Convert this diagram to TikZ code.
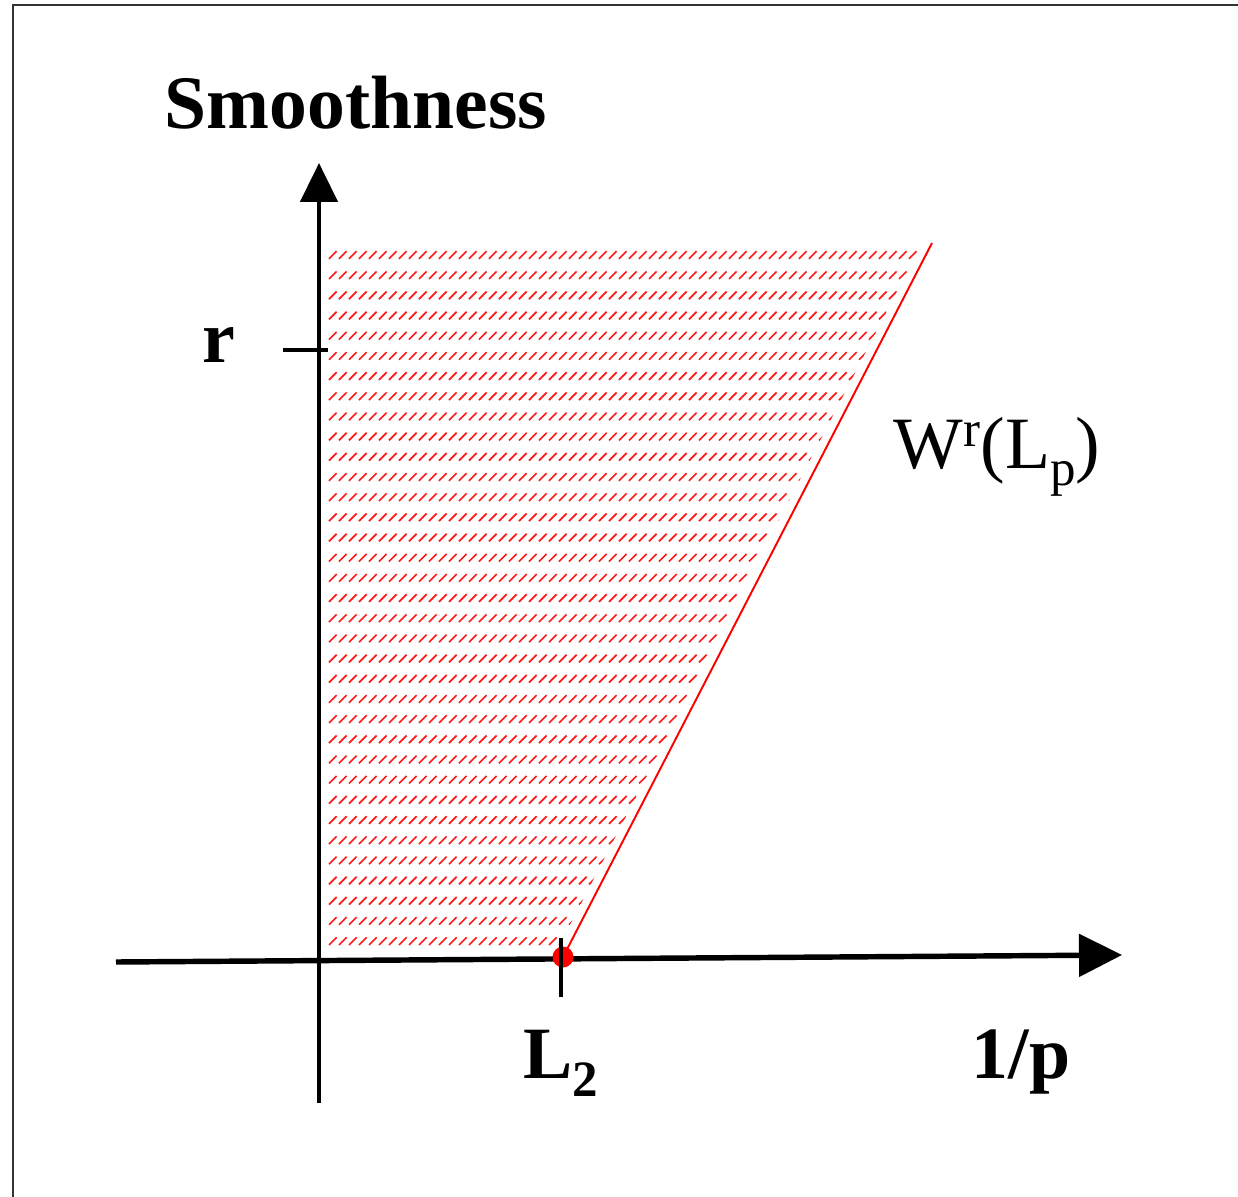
\documentclass[tikz,border=0pt]{standalone}
\usepackage{fontspec}
\setmainfont{Liberation Serif}
\usetikzlibrary{arrows.meta}
\tikzset{
  axis/.style={line width=2.9pt, black},
  tickmark/.style={line width=1.9pt, black},
  hatch/.style={red!90, line width=0.95pt},
  bound/.style={red, line width=1.1pt},
  lbl/.style={inner sep=0pt, anchor=base, font=\fontsize{42}{48}\selectfont},
  frame/.style={line width=1.1pt, black!80}
}
\newcommand{\smallfs}{\fontsize{29}{30}\selectfont}
\begin{document}
\begin{tikzpicture}[x=0.02cm, y=-0.02cm]
\useasboundingbox (0,0) rectangle (1238,1197);
% frame
\draw[frame] (13,1210) -- (13,5) -- (1250,5);
% coordinates
\coordinate (O) at (319,959);
\coordinate (xs) at (116,962);
\coordinate (xe) at (1122,955);
\coordinate (ys) at (319,1103);
\coordinate (ye) at (319,163);
\coordinate (L2) at (563,957);
\coordinate (Top) at (932,243);
% hatch
\begin{scope}
  \clip (328,245) -- (921,245) -- (558,948) -- (328,948) -- cycle;
  \foreach \i in {0,...,34} {
    \pgfmathsetmacro\yy{255+\i*20.18}
    \foreach \xx in {329,339,...,929} {
      \draw[hatch] (\xx,\yy+3.8) -- ++(7.6,-7.6);
    }
  }
\end{scope}
% boundary line
\draw[bound] (L2) -- (Top);
% axes
\draw[axis, line width=3.1pt, -{Triangle[length=0.86cm, width=0.84cm]}] (xs) -- (xe);
\draw[axis, line width=2.7pt, -{Triangle[length=0.78cm, width=0.74cm]}] (ys) -- (ye);
% r tick
\coordinate (rt1) at (283,350);
\coordinate (rt2) at (328,350);
\draw[tickmark, line width=2.2pt] (rt1) -- (rt2);
% red dot
\fill[red] (L2) circle (10.5);
% L2 tick
\coordinate (lt1) at (561,938);
\coordinate (lt2) at (561,997);
\draw[tickmark] (lt1) -- (lt2);
% labels
\node[lbl, font=\fontsize{43}{48}\selectfont\bfseries] (smooth) at (356,128) {Smoothness};
\node[lbl, font=\fontsize{42}{48}\selectfont\bfseries] (rlab) at (219,362) {r};
\node[lbl, font=\fontsize{42}{48}\selectfont\bfseries] (l2lab) at (561,1078) {L\raisebox{-10.5pt}{\fontsize{29}{30}\selectfont\bfseries 2}};
\node[lbl, font=\fontsize{42}{48}\selectfont\bfseries] (plab) at (1021,1078) {1/p};
\node[lbl] (wlab) at (997,468) {W\raisebox{12pt}{\smallfs r}(L\raisebox{-10pt}{\smallfs p})};
\end{tikzpicture}
\end{document}
